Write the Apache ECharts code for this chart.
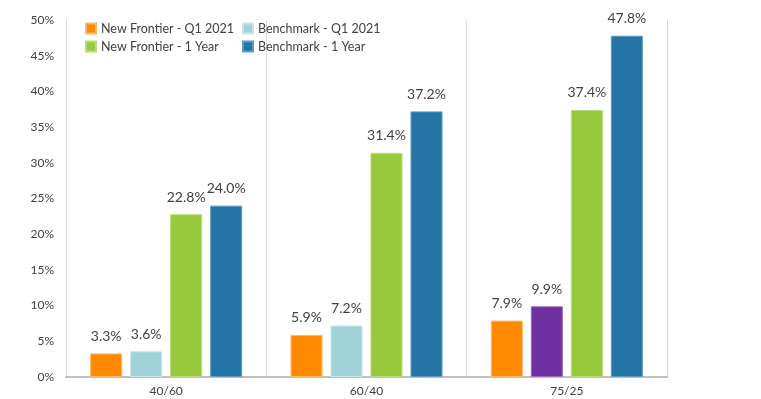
<!DOCTYPE html>
<html><head><meta charset="utf-8">
<script src="https://cdn.jsdelivr.net/npm/echarts@6/dist/echarts.min.js"></script>
<style>html,body{margin:0;padding:0;background:#fff}#c{width:761px;height:399px}</style>
</head><body><div id="c"></div>
<script>
const categories = ['40/60', '60/40', '75/25'];
const seriesNames = ['New Frontier - Q1 2021', 'Benchmark - Q1 2021', 'New Frontier - 1 Year', 'Benchmark - 1 Year'];
const nfQ1 = [3.3, 5.9, 7.9];
const bmQ1 = [3.6, 7.2, 9.9];
const nf1Y = [22.8, 31.4, 37.4];
const bm1Y = [24.0, 37.2, 47.8];
const yTicks = [0, 5, 10, 15, 20, 25, 30, 35, 40, 45, 50];

const colors = ['#FF8A00', '#9FD3D7', '#97C93D', '#2474A6'];
const borders = ['#FFB866', '#C5E6E8', '#B9DD7A', '#5C9BC4'];
const highlight = {color: '#7030A0', border: '#9A6CC0'};
const font = 'Lato, "Open Sans", sans-serif';

function mkSeries(name, vals, i, special) {
  return {
    name: name, type: 'bar', barWidth: 32, barGap: '25%',
    data: vals.map((v, k) => {
      if (special && special(k)) return {value: v, itemStyle: {color: highlight.color, borderColor: highlight.border}};
      return v;
    }),
    itemStyle: {color: colors[i], borderColor: borders[i], borderWidth: 1},
    label: {show: true, position: 'top', distance: 10, formatter: p => p.value.toFixed(1) + '%', color: '#404040', fontSize: 14, fontFamily: font}
  };
}

const chart = echarts.init(document.getElementById('c'));
const legendText = {color: '#404040', fontSize: 12.5, fontFamily: font};
chart.setOption({
  animation: false,
  color: colors,
  grid: {left: 66, right: 94, top: 20, bottom: 22},
  legend: [
    {orient: 'vertical', left: 80, top: 17, itemWidth: 10, itemHeight: 10, itemGap: 5, icon: 'rect',
     data: [seriesNames[0], seriesNames[2]], textStyle: legendText},
    {orient: 'vertical', left: 237, top: 17, itemWidth: 10, itemHeight: 10, itemGap: 5, icon: 'rect',
     data: [seriesNames[1], seriesNames[3]], textStyle: legendText}
  ],
  xAxis: {
    type: 'category', data: categories,
    axisLine: {lineStyle: {color: '#BFBFBF', width: 2}},
    axisTick: {show: false},
    axisLabel: {color: '#404040', fontSize: 12, fontFamily: font, margin: 8},
    splitLine: {show: true, lineStyle: {color: '#D9D9D9', width: 1}}
  },
  yAxis: {
    type: 'value', min: 0, max: 50, interval: 5,
    axisLine: {show: true, lineStyle: {color: '#D9D9D9'}},
    axisTick: {show: false},
    splitLine: {show: false},
    axisLabel: {color: '#404040', fontSize: 12, fontFamily: font, margin: 12, formatter: v => yTicks.includes(v) ? v + '%' : ''}
  },
  series: [
    mkSeries(seriesNames[0], nfQ1, 0),
    mkSeries(seriesNames[1], bmQ1, 1, k => k === 2),
    mkSeries(seriesNames[2], nf1Y, 2),
    mkSeries(seriesNames[3], bm1Y, 3)
  ]
});
</script></body></html>
